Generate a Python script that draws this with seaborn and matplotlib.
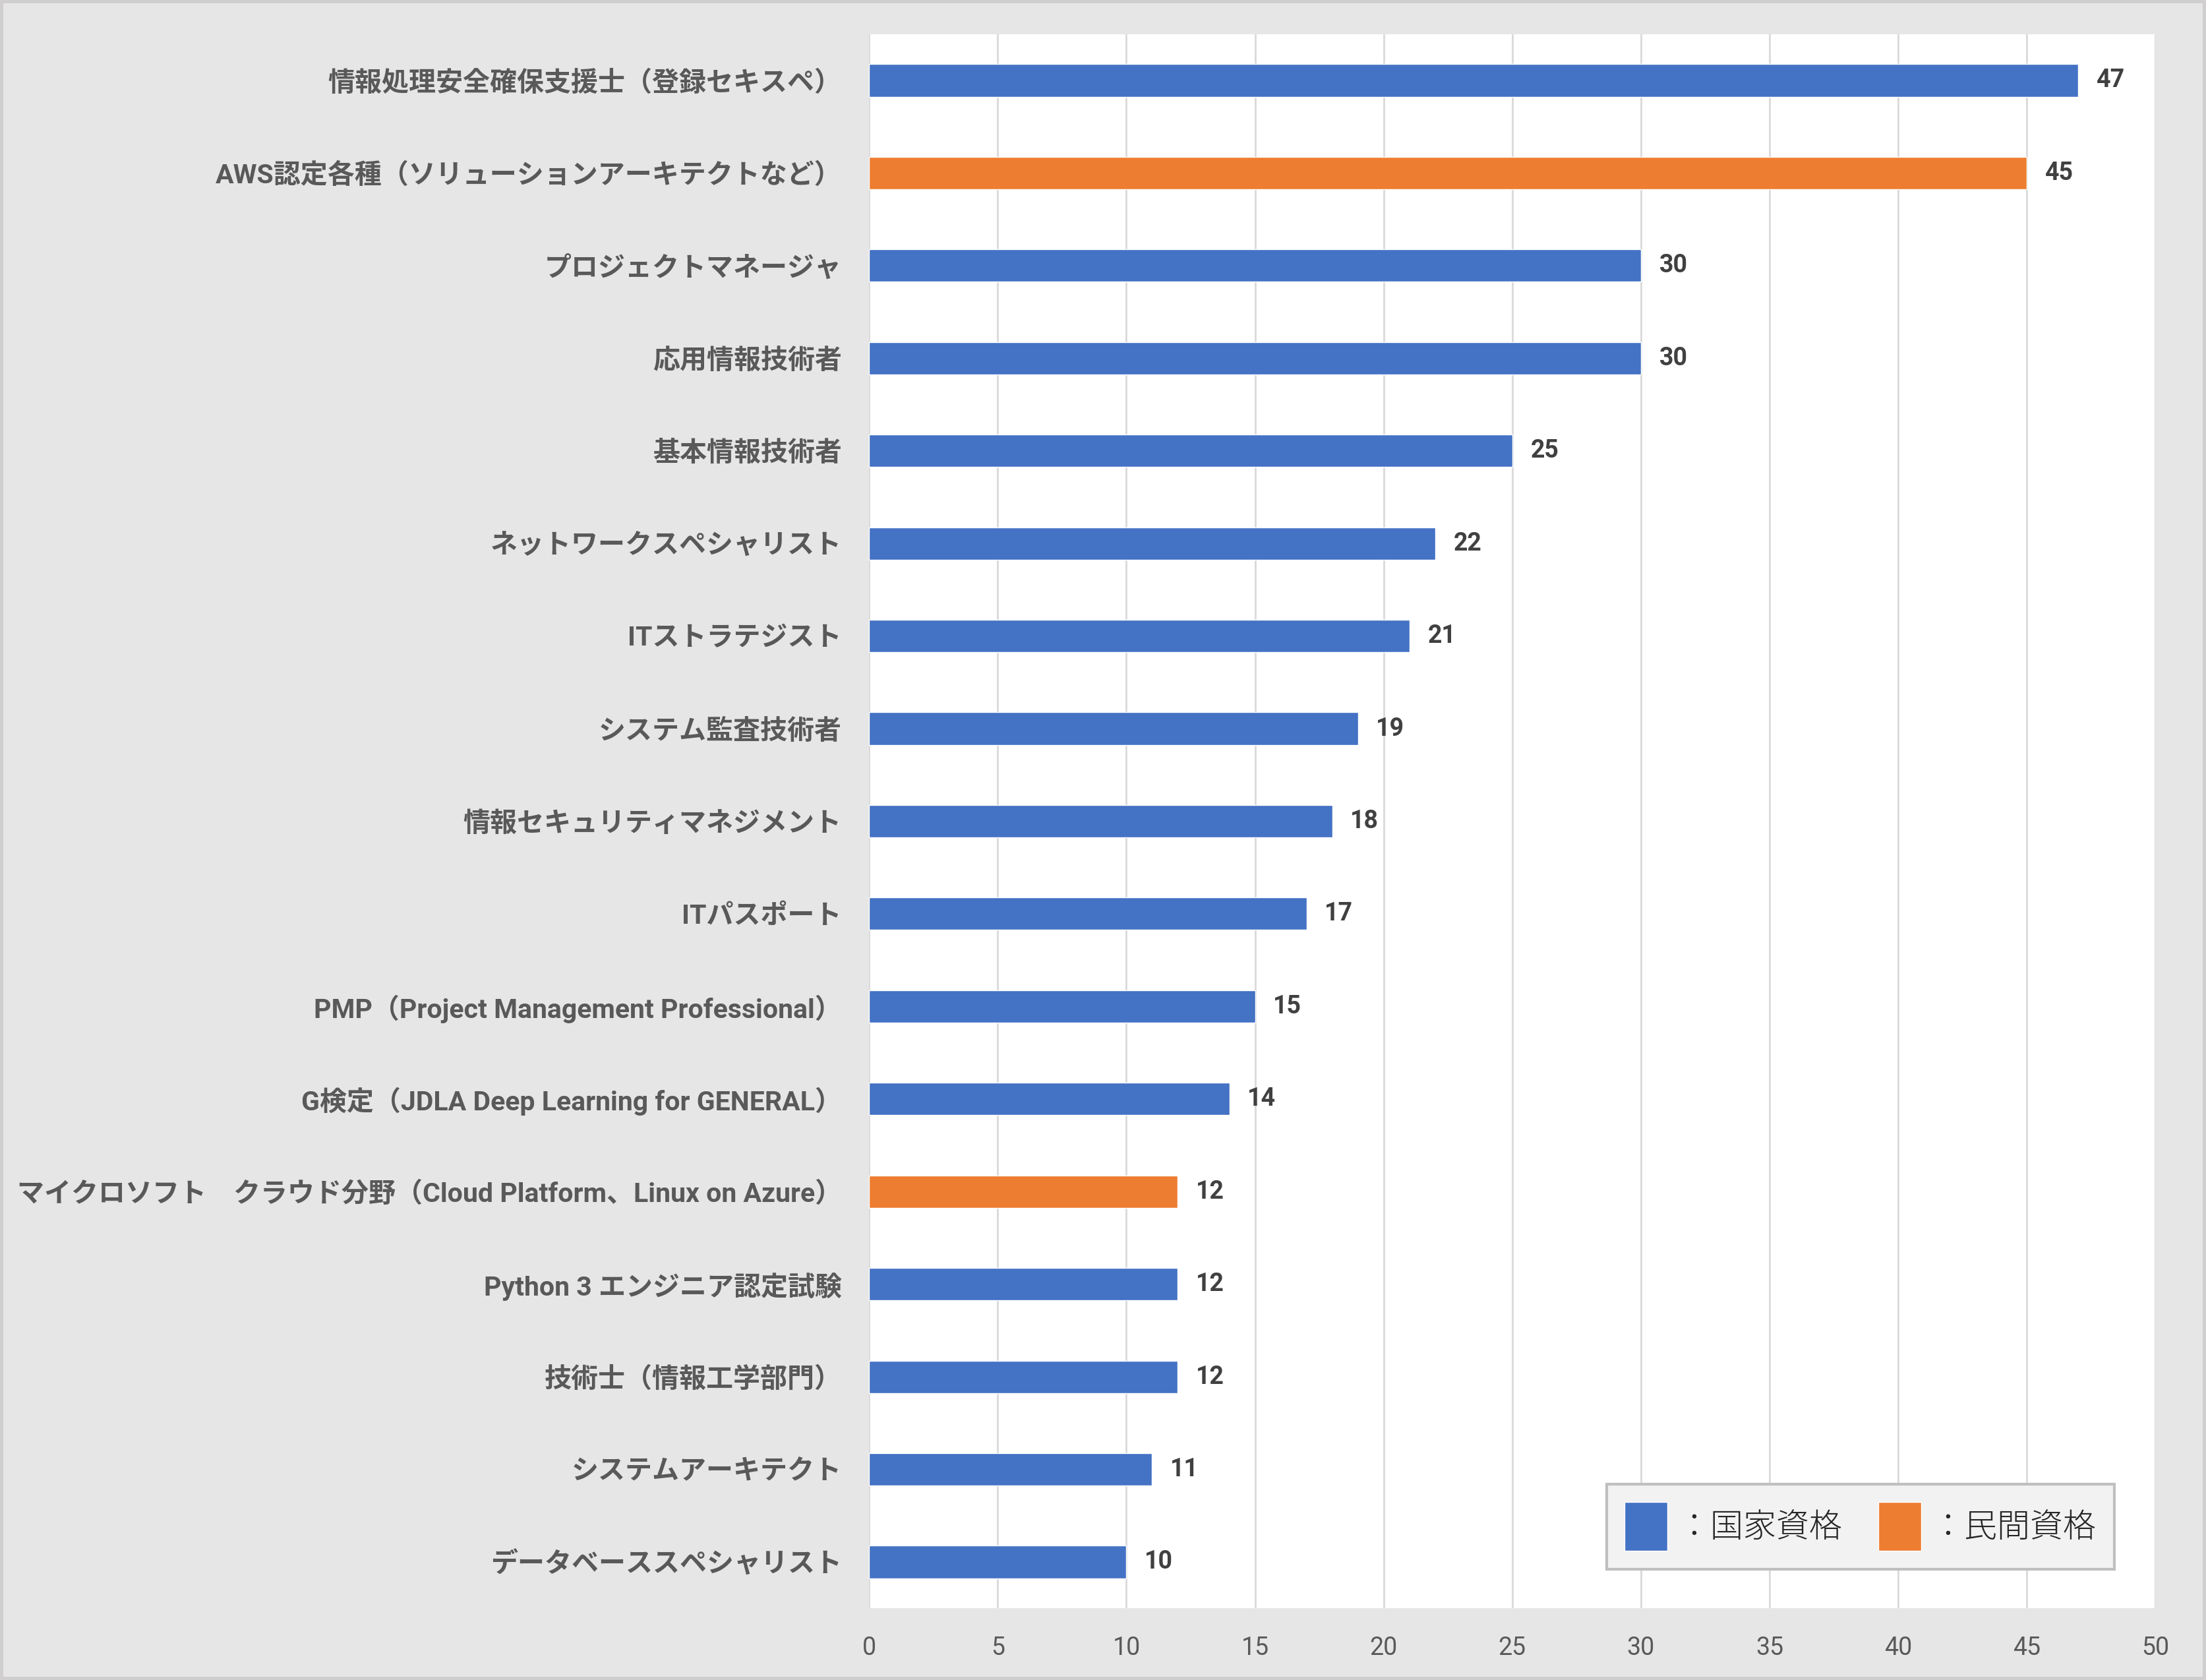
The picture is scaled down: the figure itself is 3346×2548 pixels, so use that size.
import pandas as pd
import matplotlib.pyplot as plt
import seaborn as sns
from matplotlib.patches import Patch

names = [
    "情報処理安全確保支援士（登録セキスペ）",
    "AWS認定各種（ソリューションアーキテクトなど）",
    "プロジェクトマネージャ",
    "応用情報技術者",
    "基本情報技術者",
    "ネットワークスペシャリスト",
    "ITストラテジスト",
    "システム監査技術者",
    "情報セキュリティマネジメント",
    "ITパスポート",
    "PMP（Project Management Professional）",
    "G検定（JDLA Deep Learning for GENERAL）",
    "マイクロソフト　クラウド分野（Cloud Platform、Linux on Azure）",
    "Python 3 エンジニア認定試験",
    "技術士（情報工学部門）",
    "システムアーキテクト",
    "データベーススペシャリスト",
]
counts = [47, 45, 30, 30, 25, 22, 21, 19, 18, 17, 15, 14, 12, 12, 12, 11, 10]
kinds = ["国家", "民間", "国家", "国家", "国家", "国家", "国家", "国家", "国家",
         "国家", "国家", "国家", "民間", "国家", "国家", "国家", "国家"]
legend_labels = ["：国家資格", "：民間資格"]

df = pd.DataFrame({"name": names, "count": counts, "kind": kinds})

sns.set_style("white")
plt.rcParams['font.family'] = ['Noto Sans CJK JP', 'DejaVu Sans']

# Roboto is narrower than Noto for the latin parts (closer to Calibri)
label_family = ['Roboto', 'Noto Sans CJK JP', 'DejaVu Sans']

blue = "#4472C4"
orange = "#ED7D31"
palette = {"国家": blue, "民間": orange}

fig = plt.figure(figsize=(33.46, 25.48), dpi=100, facecolor="#E7E6E6",
                 edgecolor="#D0CECE", linewidth=6)
ax = fig.add_axes([0.394, 0.0427, 0.583, 0.937])

sns.barplot(data=df, x="count", y="name", hue="kind", palette=palette,
            orient="h", width=0.35, dodge=False, legend=False, ax=ax,
            saturation=1)

for c in ax.containers:
    for t in ax.bar_label(c, padding=20, fontsize=27, fontweight="bold",
                          color="#404040"):
        t.set_family(label_family)

ax.set_xlim(0, 50)
ax.set_xticks(range(0, 51, 5))
ax.grid(axis="x", color="#D9D9D9", linewidth=2)
ax.set_axisbelow(True)
for s in ax.spines.values():
    s.set_visible(False)
ax.set_xlabel("")
ax.set_ylabel("")
ax.tick_params(axis="x", length=0, pad=30, labelsize=27, labelcolor="#595959")
ax.tick_params(axis="y", length=0, pad=30, labelsize=29.5, labelcolor="#595959")
for t in ax.get_xticklabels():
    t.set_family(label_family)
for t in ax.get_yticklabels():
    t.set_fontweight("bold")
    t.set_family(label_family)

handles = [Patch(facecolor=blue), Patch(facecolor=orange)]
leg = ax.legend(handles, legend_labels, loc="lower right",
                bbox_to_anchor=(0.968, 0.025), ncol=2, fontsize=36,
                frameon=True, fancybox=False, handlelength=1.3,
                handleheight=1.9, handletextpad=0.3, columnspacing=1.1,
                borderpad=0.55, borderaxespad=0)
leg.get_frame().set_facecolor("#F2F2F2")
leg.get_frame().set_edgecolor("#BFBFBF")
leg.get_frame().set_linewidth(3)
leg.get_frame().set_alpha(1)
for t in leg.get_texts():
    t.set_fontweight("light")

fig.savefig("out.png", dpi=100, facecolor=fig.get_facecolor(),
            edgecolor=fig.get_edgecolor())
